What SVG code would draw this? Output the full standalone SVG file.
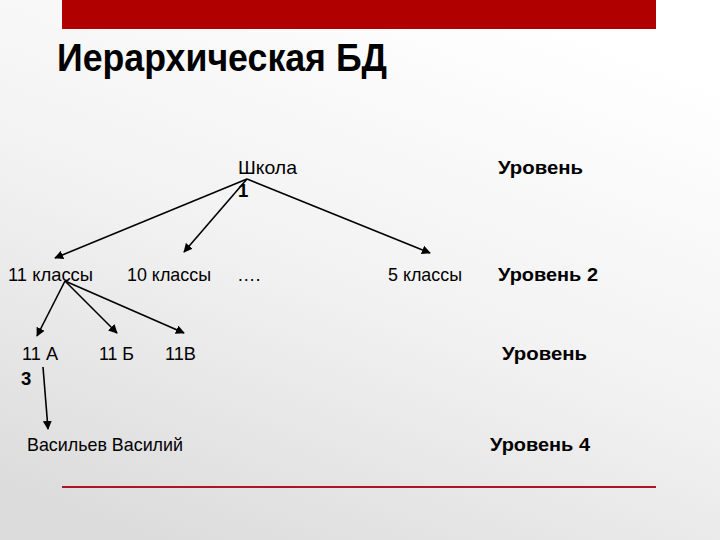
<svg xmlns="http://www.w3.org/2000/svg" width="720" height="540" viewBox="0 0 720 540">
<defs>
<linearGradient id="bg" x1="0.7" y1="0" x2="0.2" y2="1">
<stop offset="0" stop-color="#ffffff"/>
<stop offset="0.5" stop-color="#f2f2f2"/>
<stop offset="1" stop-color="#dcdcdc"/>
</linearGradient>
<marker id="ah" viewBox="0 0 10 10" refX="9" refY="5" markerWidth="9" markerHeight="9" markerUnits="userSpaceOnUse" orient="auto">
<path d="M0,0 L10,5 L0,10 z" fill="#000"/>
</marker>
<style>
.t{font-family:"Liberation Sans",Arial,sans-serif;font-size:18.5px;fill:#000}
.b{font-family:"Liberation Sans",Arial,sans-serif;font-size:18.5px;font-weight:bold;fill:#000}
.c{stroke:#000;stroke-width:1.6;fill:none;marker-end:url(#ah)}
</style>
</defs>
<rect width="720" height="540" fill="url(#bg)"/>
<rect x="62" y="0" width="594" height="29" fill="#b00000"/>
<rect x="62" y="486" width="594" height="2" fill="#b0112b"/>
<text x="57" y="71" font-family="Liberation Sans,Arial,sans-serif" font-weight="bold" font-size="38" textLength="330" lengthAdjust="spacingAndGlyphs">Иерархическая БД</text>
<g id="connectors">
<line class="c" x1="247" y1="179" x2="55" y2="258"/>
<line class="c" x1="247" y1="179" x2="184" y2="252"/>
<line class="c" x1="247" y1="179" x2="430" y2="253"/>
<line class="c" x1="65" y1="281" x2="37" y2="336"/>
<line class="c" x1="65" y1="281" x2="117" y2="333"/>
<line class="c" x1="65" y1="281" x2="184" y2="333"/>
<line class="c" x1="43" y1="367" x2="48" y2="429"/>
</g>
<g id="school"><text class="t" x="238" y="174" textLength="59" lengthAdjust="spacingAndGlyphs">Школа</text><text class="b" x="238" y="197">1</text></g>
<g id="lvl1"><text class="b" x="498" y="174" textLength="85" lengthAdjust="spacingAndGlyphs">Уровень</text></g>
<g id="c11"><text class="t" x="8" y="281" textLength="85" lengthAdjust="spacingAndGlyphs">11 классы</text></g>
<g id="c10"><text class="t" x="127" y="281" textLength="84" lengthAdjust="spacingAndGlyphs">10 классы</text></g>
<g id="dots"><text class="t" x="237" y="281">….</text></g>
<g id="c5"><text class="t" x="388" y="281" textLength="74" lengthAdjust="spacingAndGlyphs">5 классы</text></g>
<g id="lvl2"><text class="b" x="498" y="281" textLength="100" lengthAdjust="spacingAndGlyphs">Уровень 2</text></g>
<g id="a11"><text class="t" x="22" y="360" textLength="36" lengthAdjust="spacingAndGlyphs">11 А</text><text class="b" x="21" y="385">3</text></g>
<g id="b11"><text class="t" x="99" y="360" textLength="35" lengthAdjust="spacingAndGlyphs">11 Б</text></g>
<g id="v11"><text class="t" x="165" y="360" textLength="31" lengthAdjust="spacingAndGlyphs">11В</text></g>
<g id="lvl3"><text class="b" x="502" y="360" textLength="85" lengthAdjust="spacingAndGlyphs">Уровень</text></g>
<g id="vv"><text class="t" x="27" y="451" textLength="156" lengthAdjust="spacingAndGlyphs">Васильев Василий</text></g>
<g id="lvl4"><text class="b" x="490" y="451" textLength="100" lengthAdjust="spacingAndGlyphs">Уровень 4</text></g>
</svg>
